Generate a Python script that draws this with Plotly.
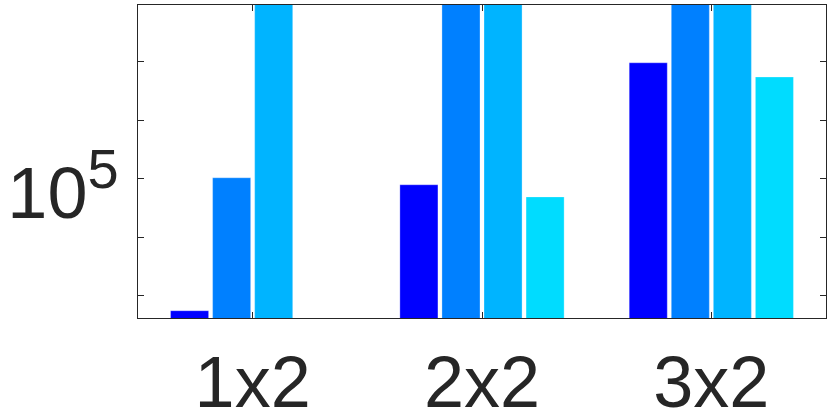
import plotly.graph_objects as go

categories = ["1x2", "2x2", "3x2"]
series_1 = [555, 7.9e4, 9.6e6]
series_2 = [1.04e5, 2e8, 2e8]
series_3 = [2e8, 2e8, 2e8]
series_4 = [None, 4.9e4, 5.5e6]
colors = ["#0000FF", "#0080FF", "#00B4FF", "#00DCFF"]

y_tickvals = [1e5]
y_ticktext = ["10<sup><span style='font-size:56px'>5</span></sup>"]
y_minor_tickvals = [1e3, 1e4, 1e6, 1e7]

fig = go.Figure()
for vals, col in zip([series_1, series_2, series_3, series_4], colors):
    fig.add_trace(go.Bar(
        x=[1, 2, 3], y=vals,
        marker=dict(color=col, line=dict(width=0.6, color="rgba(255,255,255,0.5)")),
    ))

axis_col = "#262626"
fig.update_layout(
    barmode="group",
    bargap=0.2664,
    bargroupgap=0.095,
    showlegend=False,
    width=831, height=417,
    margin=dict(l=138, r=5, t=5, b=99),
    plot_bgcolor="white",
    paper_bgcolor="white",
    font=dict(family="Liberation Sans, Arial, Helvetica, sans-serif", size=72, color=axis_col),
)
fig.update_xaxes(
    range=[0.5, 3.5],
    tickvals=[1, 2, 3], ticktext=categories,
    ticks="inside", ticklen=6, tickcolor=axis_col, tickwidth=1,
    showline=True, linecolor=axis_col, linewidth=1, mirror="ticks",
    showgrid=False, zeroline=False,
    automargin=False,
    ticklabelstandoff=2,
)
fig.update_yaxes(
    type="log",
    range=[2.62, 7.97],
    tickvals=y_tickvals, ticktext=y_ticktext,
    ticks="inside", ticklen=6, tickcolor=axis_col, tickwidth=1,
    minor=dict(tickvals=y_minor_tickvals, ticks="inside", ticklen=6,
               tickcolor=axis_col, tickwidth=1, showgrid=False),
    showline=True, linecolor=axis_col, linewidth=1, mirror="ticks",
    showgrid=False, zeroline=False,
    automargin=False,
    ticklabelstandoff=4,
    ticklabelshift=14,
)

fig.write_html("out.html", config={"displayModeBar": False},
               post_script="document.body.style.margin='0';")
